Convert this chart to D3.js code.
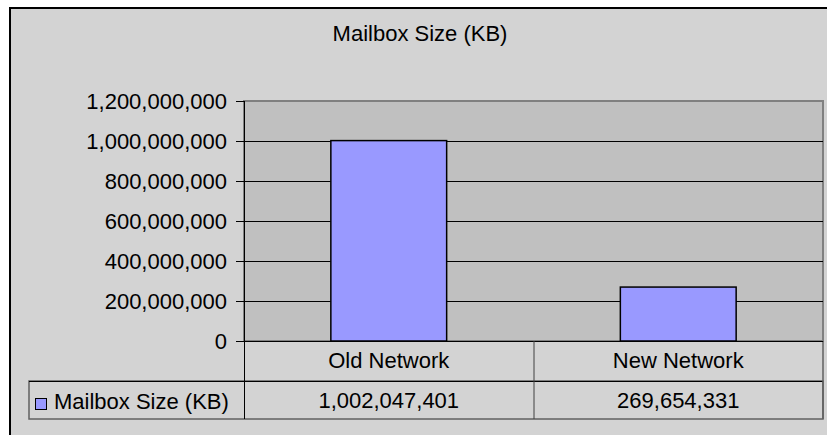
<!DOCTYPE html>
<html>
<head>
<meta charset="utf-8">
<script src="https://cdn.jsdelivr.net/npm/d3@7"></script>
<style>
  body { margin: 0; background: #fff; }
  text { font-family: "Liberation Sans", Arial, sans-serif; fill: #000; }
</style>
</head>
<body>
<div id="vis"></div>
<script>
// mailbox size chart, excel-style with a data table underneath

const categories = ["Old Network", "New Network"];
const values = [1002047401, 269654331];
const seriesName = "Mailbox Size (KB)";
const chartTitle = "Mailbox Size (KB)";
const yTicks = [0, 200000000, 400000000, 600000000, 800000000, 1000000000, 1200000000];

const width = 827;
const height = 435;
const plot = {left: 244, right: 823, top: 101, bottom: 341};
const table = {row1: 381, row2: 419, legendLeft: 29};
const fmt = d3.format(",");
const fontSize = 22;

const svg = d3.select("#vis").append("svg")
    .attr("width", width).attr("height", height);

// outer chart area
svg.append("rect")
    .attr("x", 10).attr("y", 8)
    .attr("width", width + 20).attr("height", height + 20)
    .attr("fill", "#d3d3d3")
    .attr("stroke", "#000").attr("stroke-width", 2);

svg.append("text")
    .attr("x", 420).attr("y", 41)
    .attr("text-anchor", "middle")
    .style("font-size", fontSize + "px")
    .text(chartTitle);

const yScale = d3.scaleLinear()
    .domain([0, d3.max(yTicks)])
    .range([plot.bottom, plot.top]);

const xTable = d3.scaleBand().domain(categories).range([plot.left, plot.right]);
const xBar = d3.scaleBand().domain(categories).range([plot.left, plot.right])
    .paddingInner(0.6).paddingOuter(0.3);

// plot area
svg.append("rect")
    .attr("x", plot.left).attr("y", plot.top)
    .attr("width", plot.right - plot.left).attr("height", plot.bottom - plot.top)
    .attr("fill", "#c0c0c0")
    .attr("stroke", "#808080").attr("stroke-width", 2);

// gridlines
svg.append("g").selectAll("line").data(yTicks.filter(d => d > 0 && d < d3.max(yTicks)))
    .enter().append("line")
    .attr("x1", plot.left).attr("x2", plot.right)
    .attr("y1", d => Math.round(yScale(d)) + 0.5).attr("y2", d => Math.round(yScale(d)) + 0.5)
    .attr("stroke", "#000").attr("stroke-width", 1);

// bars
svg.append("g").selectAll("rect").data(values)
    .enter().append("rect")
    .attr("x", (d, i) => xBar(categories[i]))
    .attr("y", d => yScale(d))
    .attr("width", xBar.bandwidth())
    .attr("height", d => yScale(0) - yScale(d))
    .attr("fill", "#9999ff")
    .attr("stroke", "#000").attr("stroke-width", 1.5);

// y axis
const yAxis = d3.axisLeft(yScale).tickValues(yTicks).tickFormat(fmt).tickSize(8).tickPadding(9);
const yAxisG = svg.append("g").attr("class", "y axis")
    .attr("transform", `translate(${plot.left}, 0)`)
    .call(yAxis);
yAxisG.select(".domain").remove();
yAxisG.selectAll("line").attr("stroke", "#000");
yAxisG.selectAll("text")
    .style("font-size", fontSize + "px")
    .style("font-family", '"Liberation Sans", Arial, sans-serif')
    .attr("fill", "#000");

// data table lines
const tbl = svg.append("g").attr("class", "table");
tbl.append("rect")
    .attr("x", table.legendLeft).attr("y", table.row1)
    .attr("width", plot.right - table.legendLeft).attr("height", table.row2 - table.row1)
    .attr("fill", "none").attr("stroke", "#606060").attr("stroke-width", 1.5);
tbl.append("line")
    .attr("x1", table.legendLeft).attr("x2", plot.right)
    .attr("y1", table.row1 + 0.5).attr("y2", table.row1 + 0.5)
    .attr("stroke", "#000");
tbl.append("line")
    .attr("x1", plot.right).attr("x2", plot.right)
    .attr("y1", plot.bottom).attr("y2", table.row2)
    .attr("stroke", "#606060").attr("stroke-width", 1.5);
tbl.append("line")
    .attr("x1", plot.left + 0.5).attr("x2", plot.left + 0.5)
    .attr("y1", plot.top).attr("y2", table.row2)
    .attr("stroke", "#000");
tbl.append("line")
    .attr("x1", plot.left).attr("x2", plot.right)
    .attr("y1", plot.bottom + 0.5).attr("y2", plot.bottom + 0.5)
    .attr("stroke", "#000");
tbl.selectAll("line.div").data(categories.slice(1))
    .enter().append("line").attr("class", "div")
    .attr("x1", d => xTable(d) + 0.5).attr("x2", d => xTable(d) + 0.5)
    .attr("y1", plot.bottom).attr("y2", table.row2)
    .attr("stroke", "#404040");

// category labels
tbl.selectAll("text.cat").data(categories)
    .enter().append("text").attr("class", "cat")
    .attr("x", d => xTable(d) + xTable.bandwidth() / 2)
    .attr("y", 368)
    .attr("text-anchor", "middle")
    .style("font-size", fontSize + "px")
    .text(d => d);

// values row
tbl.selectAll("text.val").data(values)
    .enter().append("text").attr("class", "val")
    .attr("x", (d, i) => xTable(categories[i]) + xTable.bandwidth() / 2)
    .attr("y", 408)
    .attr("text-anchor", "middle")
    .style("font-size", fontSize + "px")
    .text(d => fmt(d));

// legend key
tbl.append("rect")
    .attr("x", 35.5).attr("y", 398.5)
    .attr("width", 11).attr("height", 11)
    .attr("fill", "#9999ff").attr("stroke", "#000");
tbl.append("text")
    .attr("x", 54).attr("y", 409)
    .style("font-size", fontSize + "px")
    .text(seriesName);
</script>
</body>
</html>
